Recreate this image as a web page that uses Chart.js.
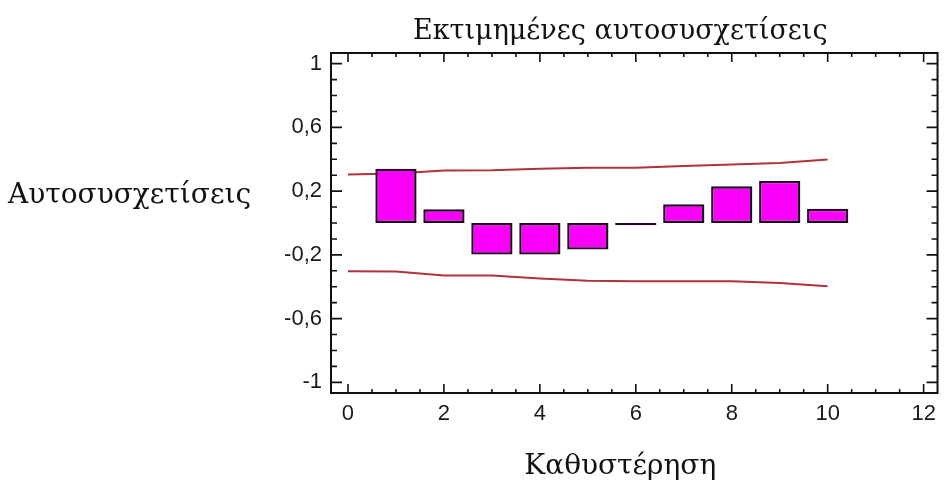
<!DOCTYPE html>
<html>
<head>
<meta charset="utf-8">
<script src="https://cdn.jsdelivr.net/npm/chart.js@4/dist/chart.umd.min.js"></script>
<style>
  html, body { margin: 0; padding: 0; background: #fff; }
</style>
</head>
<body>
<canvas id="acf" width="944" height="497"></canvas>
<script>
// Estimated autocorrelations by lag
const lags = [1, 2, 3, 4, 5, 6, 7, 8, 9, 10];
const acf = [0.341, 0.086, -0.198, -0.198, -0.167, -0.014, 0.117, 0.230, 0.264, 0.089];

// Probability limits drawn from lag 0 to lag 10
const limitLags = [0, 1, 2, 3, 4, 5, 6, 7, 8, 9, 10];
const upperLimit = [0.304, 0.310, 0.329, 0.331, 0.341, 0.346, 0.346, 0.357, 0.367, 0.376, 0.398];
const lowerLimit = [-0.303, -0.305, -0.330, -0.330, -0.349, -0.362, -0.366, -0.366, -0.366, -0.377, -0.397];

// Labelled ticks
const xTicks = [0, 2, 4, 6, 8, 10, 12];
const yTicks = [-1, -0.6, -0.2, 0.2, 0.6, 1];

const chartTitle = 'Εκτιμημένες αυτοσυσχετίσεις';
const xTitle = 'Καθυστέρηση';
const yTitle = 'Αυτοσυσχετίσεις';

const serif = '"DejaVu Serif", "Liberation Serif", serif';

// Box around the plot with inward ticks on all four sides, plus the titles
const framePlugin = {
  id: 'frame',
  afterDatasetsDraw(chart) {
    const { ctx, chartArea: a, scales: { x, y } } = chart;
    ctx.save();
    ctx.strokeStyle = '#111';
    ctx.lineWidth = 2;
    ctx.strokeRect(a.left, a.top, a.right - a.left, a.bottom - a.top);

    ctx.lineWidth = 1.6;
    ctx.beginPath();
    for (let i = -10; i <= 10; i++) {
      const v = i / 10;
      const py = y.getPixelForValue(v);
      const major = yTicks.some(t => Math.abs(t - v) < 1e-9);
      const len = major ? 11 : 6;
      ctx.moveTo(a.left, py);
      ctx.lineTo(a.left + len, py);
      ctx.moveTo(a.right, py);
      ctx.lineTo(a.right - len, py);
    }
    for (let i = 0; i <= 24; i++) {
      const v = i / 2;
      const px = x.getPixelForValue(v);
      const len = i % 4 === 0 ? 9 : 4;
      ctx.moveTo(px, a.bottom);
      ctx.lineTo(px, a.bottom - len);
      ctx.moveTo(px, a.top);
      ctx.lineTo(px, a.top + len);
    }
    ctx.stroke();

    ctx.fillStyle = '#111';
    ctx.textBaseline = 'middle';
    ctx.textAlign = 'center';
    const cx = (a.left + a.right) / 2 - 14;
    ctx.font = '27px ' + serif;
    ctx.fillText(chartTitle, cx, a.top - 21);
    ctx.font = '28px ' + serif;
    ctx.fillText(xTitle, cx, a.bottom + 74);
    ctx.textAlign = 'left';
    ctx.fillText(yTitle, 8, y.getPixelForValue(0.17));
    ctx.restore();
  }
};

const ctx = document.getElementById('acf').getContext('2d');

new Chart(ctx, {
  type: 'bar',
  data: {
    datasets: [
      {
        type: 'bar',
        data: lags.map((lag, i) => ({ x: lag, y: acf[i] })),
        backgroundColor: '#fa00fa',
        borderColor: '#240824',
        borderWidth: 2.4,
        borderSkipped: false,
        barPercentage: 0.86,
        categoryPercentage: 1,
        order: 0,
      },
      {
        type: 'line',
        data: limitLags.map((lag, i) => ({ x: lag, y: upperLimit[i] })),
        borderColor: '#b0323c',
        borderWidth: 2,
        pointRadius: 0,
        tension: 0,
        order: 1,
      },
      {
        type: 'line',
        data: limitLags.map((lag, i) => ({ x: lag, y: lowerLimit[i] })),
        borderColor: '#b0323c',
        borderWidth: 2,
        pointRadius: 0,
        tension: 0,
        order: 1,
      },
    ],
  },
  options: {
    responsive: false,
    animation: false,
    layout: { padding: { top: 53, right: 6, bottom: 0, left: 0 } },
    plugins: {
      legend: { display: false },
      tooltip: { enabled: false },
    },
    scales: {
      x: {
        type: 'linear',
        min: -0.354,
        max: 12.29,
        offset: false,
        grid: { display: false, drawTicks: false },
        border: { display: false },
        afterBuildTicks(scale) {
          scale.ticks = xTicks.map(v => ({ value: v }));
        },
        afterFit(scale) {
          scale.height = 104;
        },
        ticks: {
          padding: 8,
          color: '#1a1a1a',
          font: { family: '"Liberation Sans", Arial, sans-serif', size: 22 },
          maxRotation: 0,
          callback: v => String(v),
        },
      },
      y: {
        min: -1.067,
        max: 1.067,
        grid: { display: false, drawTicks: false },
        border: { display: false },
        afterBuildTicks(scale) {
          scale.ticks = yTicks.map(v => ({ value: v }));
        },
        afterFit(scale) {
          scale.width = 331;
        },
        ticks: {
          padding: 9,
          color: '#1a1a1a',
          font: { family: '"Liberation Sans", Arial, sans-serif', size: 22 },
          callback: v => String(Math.round(v * 10) / 10).replace('.', ','),
        },
      },
    },
  },
  plugins: [framePlugin],
});
</script>
</body>
</html>
